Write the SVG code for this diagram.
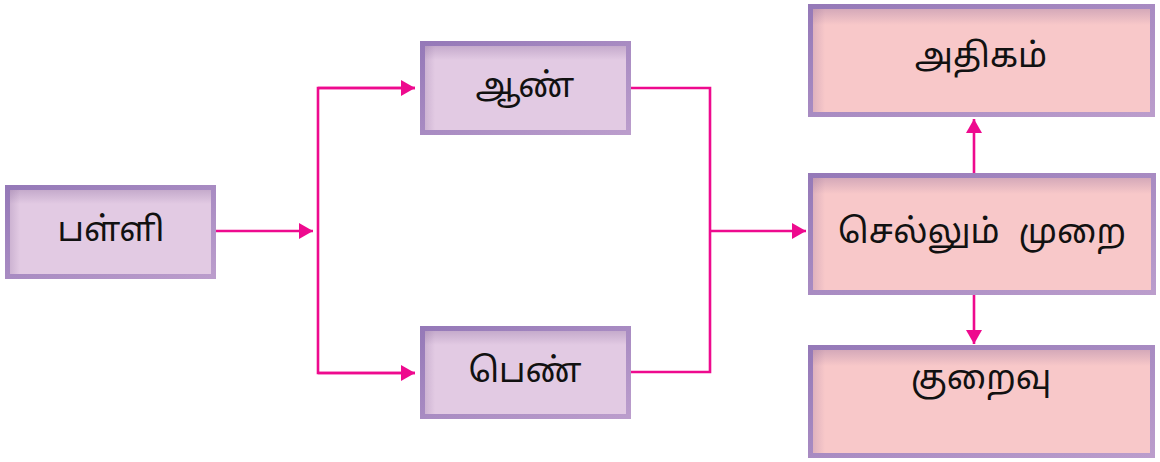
<svg xmlns="http://www.w3.org/2000/svg" width="1160" height="462" viewBox="0 0 1160 462">
<style>
.bp{fill:#e2cae3;stroke:url(#sp);stroke-width:5}
.bk{fill:#f8c8c9;stroke:url(#sp);stroke-width:5}
.t{font-family:"Noto Sans Tamil","Lohit Tamil","Noto Sans","DejaVu Sans",sans-serif;font-size:34px;fill:#111;text-anchor:middle;dominant-baseline:central}
.c{fill:none;stroke:#ee0a8e;stroke-width:2.6}
</style>
<defs>
<linearGradient id="sp" x1="0" y1="0" x2="1" y2="1">
<stop offset="0" stop-color="#9579b8"/>
<stop offset="1" stop-color="#bb9dcc"/>
</linearGradient>
<linearGradient id="topsh" x1="0" y1="0" x2="0" y2="1">
<stop offset="0" stop-color="#7a5a90" stop-opacity="0.28"/>
<stop offset="1" stop-color="#7a5a90" stop-opacity="0"/>
</linearGradient>
<linearGradient id="leftsh" x1="0" y1="0" x2="1" y2="0">
<stop offset="0" stop-color="#7a5a90" stop-opacity="0.2"/>
<stop offset="1" stop-color="#7a5a90" stop-opacity="0"/>
</linearGradient>
<marker id="ah" viewBox="0 0 14 16" refX="14" refY="8" markerWidth="14" markerHeight="16" markerUnits="userSpaceOnUse" orient="auto">
<path d="M0,0 L14,8 L0,16 Z" fill="#ee0a8e"/>
</marker>
</defs>
<g id="connectors">
<path class="c" d="M216,231 H313" marker-end="url(#ah)"/>
<path class="c" d="M415,88 H318 V373 H415"/>
<path class="c" d="M318,88 H415" marker-end="url(#ah)"/>
<path class="c" d="M318,373 H415" marker-end="url(#ah)"/>
<path class="c" d="M631,88 H710 V372 H631"/>
<path class="c" d="M710,231 H806" marker-end="url(#ah)"/>
<path class="c" d="M974,173 V119" marker-end="url(#ah)"/>
<path class="c" d="M974,295 V344" marker-end="url(#ah)"/>
</g>
<g id="palli">
<rect class="bp" x="7.5" y="187.5" width="206" height="89"/>
<rect x="10" y="190" width="201" height="14" fill="url(#topsh)"/>
<rect x="10" y="190" width="10" height="84" fill="url(#leftsh)"/>
<text class="t" x="111" y="232">பள்ளி</text>
</g>
<g id="aan">
<rect class="bp" x="422.5" y="43.5" width="206" height="89"/>
<rect x="425" y="46" width="201" height="14" fill="url(#topsh)"/>
<rect x="425" y="46" width="10" height="84" fill="url(#leftsh)"/>
<text class="t" x="525" y="88">ஆண்</text>
</g>
<g id="pen">
<rect class="bp" x="422.5" y="328.5" width="206" height="88"/>
<rect x="425" y="331" width="201" height="14" fill="url(#topsh)"/>
<rect x="425" y="331" width="10" height="83" fill="url(#leftsh)"/>
<text class="t" x="525" y="373">பெண்</text>
</g>
<g id="athigam">
<rect class="bk" x="810.5" y="6.5" width="342" height="108"/>
<rect x="813" y="9" width="337" height="16" fill="url(#topsh)"/>
<rect x="813" y="9" width="12" height="103" fill="url(#leftsh)"/>
<text class="t" x="981" y="58">அதிகம்</text>
</g>
<g id="sellum">
<rect class="bk" x="810.5" y="175.5" width="343" height="117"/>
<rect x="813" y="178" width="338" height="16" fill="url(#topsh)"/>
<rect x="813" y="178" width="12" height="112" fill="url(#leftsh)"/>
<text class="t" x="982" y="234" word-spacing="10">செல்லும் முறை</text>
</g>
<g id="kuraivu">
<rect class="bk" x="810.5" y="347.5" width="342" height="108"/>
<rect x="813" y="350" width="337" height="16" fill="url(#topsh)"/>
<rect x="813" y="350" width="12" height="103" fill="url(#leftsh)"/>
<text class="t" x="981" y="380">குறைவு</text>
</g>
</svg>
